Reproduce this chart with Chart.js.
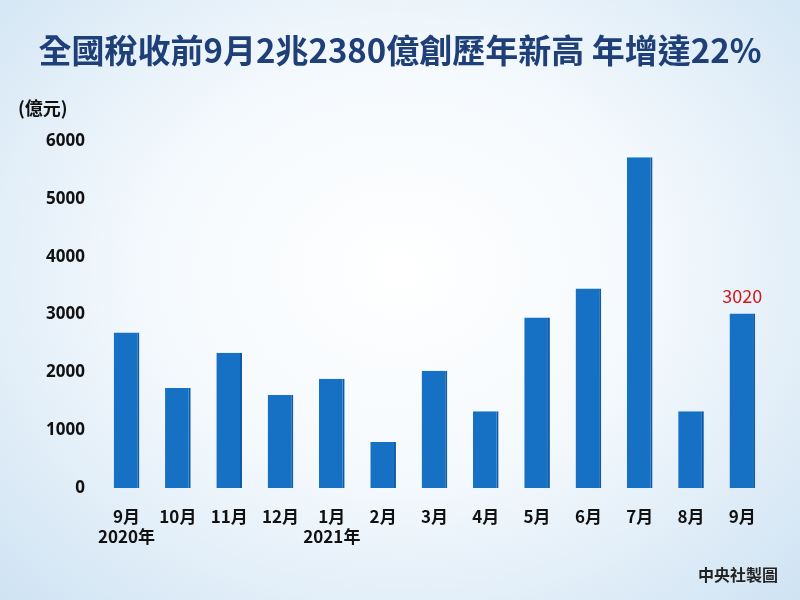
<!DOCTYPE html>
<html><head><meta charset="utf-8">
<script src="https://cdn.jsdelivr.net/npm/chart.js@4/dist/chart.umd.min.js"></script>
<style>
html,body{margin:0;padding:0;}
#wrap{position:relative;width:800px;height:600px;overflow:hidden;
background:radial-gradient(ellipse at 50% 45%, #ffffff 0%, #f4f9fd 45%, #cfe3f3 100%);
font-family:"Noto Sans CJK TC","Noto Sans",sans-serif;}
#title{position:absolute;left:0;top:25px;width:800px;text-align:center;font-size:33px;font-weight:bold;color:#1f3f78;}
#unit{position:absolute;left:18px;top:94px;font-size:18px;font-weight:bold;color:#111;}
#src{position:absolute;right:22px;top:562px;font-size:16px;font-weight:bold;color:#222;}
#c{position:absolute;left:0;top:0;}
</style></head>
<body><div id="wrap">
<canvas id="c" width="800" height="600"></canvas>
<div id="title">全國稅收前9月2兆2380億創歷年新高 年增達22%</div>
<div id="unit">(億元)</div>
<div id="src">中央社製圖</div>
</div>
<script>
const categories=[["9月","2020年"],"10月","11月","12月",["1月","2021年"],"2月","3月","4月","5月","6月","7月","8月","9月"];
const values=[2690,1730,2340,1610,1890,800,2030,1330,2950,3450,5720,1330,3020];
const yTicks=[0,1000,2000,3000,4000,5000,6000];
const labelIndex=12;
const labelText="3020";

const valueLabel={id:'vl',afterDatasetsDraw(chart){
 const m=chart.getDatasetMeta(0).data[labelIndex];const ctx=chart.ctx;
 ctx.save();ctx.fillStyle='#d0191b';ctx.font='18px "Noto Sans CJK TC",sans-serif';
 ctx.textAlign='center';ctx.textBaseline='bottom';ctx.fillText(labelText,m.x,m.y-8);ctx.restore();}};

new Chart(document.getElementById('c'),{
 type:'bar',
 data:{labels:categories,datasets:[{data:values,
  backgroundColor:'#1670c4',
  borderColor:'#0e5aa8',borderWidth:{left:0,right:2,top:0,bottom:0},
  barPercentage:0.5,categoryPercentage:1}]},
 options:{responsive:false,animation:false,
  layout:{padding:{left:30,right:32,top:141,bottom:35}},
  plugins:{legend:{display:false},tooltip:{enabled:false}},
  scales:{
   x:{grid:{display:false,drawTicks:false},border:{display:false},
    ticks:{autoSkip:false,color:'#111',font:{size:17,weight:'bold',family:'"Noto Sans CJK TC",sans-serif'},padding:18,maxRotation:0}},
   y:{min:0,max:6000,afterBuildTicks:(ax)=>{ax.ticks=yTicks.map(v=>({value:v}));},
    grid:{display:false,drawTicks:false},border:{display:false},
    ticks:{callback:(v)=>String(v),color:'#111',font:{size:17,weight:'bold',family:'"Noto Sans","Noto Sans CJK TC",sans-serif'},padding:16}}
  }},
 plugins:[valueLabel]
});
</script></body></html>
